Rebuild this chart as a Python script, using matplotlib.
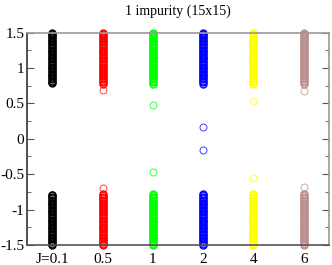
import matplotlib
matplotlib.use("Agg")
import matplotlib.pyplot as plt
from matplotlib.ticker import MultipleLocator

labels = ["J=0.1", "0.5", "1", "2", "4", "6"]
colors = ["black", "red", "#00ff00", "blue", "yellow", "#bc8f8f"]

upper_band = [
    [0.79, 0.80, 0.82, 0.84, 0.86, 0.88, 0.90, 0.92, 0.94, 0.96, 0.98, 1.00, 1.02, 1.04, 1.06, 1.08, 1.10, 1.12, 1.14, 1.16, 1.18, 1.20, 1.22, 1.24, 1.26, 1.28, 1.30, 1.32, 1.34, 1.36, 1.38, 1.40, 1.42, 1.44, 1.46, 1.48, 1.50],
    [0.78, 0.80, 0.82, 0.84, 0.86, 0.88, 0.90, 0.92, 0.94, 0.96, 0.98, 1.00, 1.02, 1.04, 1.06, 1.08, 1.10, 1.12, 1.14, 1.16, 1.18, 1.20, 1.22, 1.24, 1.26, 1.28, 1.30, 1.32, 1.34, 1.36, 1.38, 1.40, 1.42, 1.44, 1.46, 1.48, 1.50],
    [0.78, 0.80, 0.82, 0.84, 0.86, 0.88, 0.90, 0.92, 0.94, 0.96, 0.98, 1.00, 1.02, 1.04, 1.06, 1.08, 1.10, 1.12, 1.14, 1.16, 1.18, 1.20, 1.22, 1.24, 1.26, 1.28, 1.30, 1.32, 1.34, 1.36, 1.38, 1.40, 1.42, 1.44, 1.46, 1.48, 1.50],
    [0.78, 0.80, 0.82, 0.84, 0.86, 0.88, 0.90, 0.92, 0.94, 0.96, 0.98, 1.00, 1.02, 1.04, 1.06, 1.08, 1.10, 1.12, 1.14, 1.16, 1.18, 1.20, 1.22, 1.24, 1.26, 1.28, 1.30, 1.32, 1.34, 1.36, 1.38, 1.40, 1.42, 1.44, 1.46, 1.48, 1.50],
    [0.78, 0.80, 0.82, 0.84, 0.86, 0.88, 0.90, 0.92, 0.94, 0.96, 0.98, 1.00, 1.02, 1.04, 1.06, 1.08, 1.10, 1.12, 1.14, 1.16, 1.18, 1.20, 1.22, 1.24, 1.26, 1.28, 1.30, 1.32, 1.34, 1.36, 1.38, 1.40, 1.42, 1.44, 1.46, 1.48, 1.50],
    [0.78, 0.80, 0.82, 0.84, 0.86, 0.88, 0.90, 0.92, 0.94, 0.96, 0.98, 1.00, 1.02, 1.04, 1.06, 1.08, 1.10, 1.12, 1.14, 1.16, 1.18, 1.20, 1.22, 1.24, 1.26, 1.28, 1.30, 1.32, 1.34, 1.36, 1.38, 1.40, 1.42, 1.44, 1.46, 1.48, 1.50],
]
lower_band = [
    [-0.79, -0.80, -0.82, -0.84, -0.86, -0.88, -0.90, -0.92, -0.94, -0.96, -0.98, -1.00, -1.02, -1.04, -1.06, -1.08, -1.10, -1.12, -1.14, -1.16, -1.18, -1.20, -1.22, -1.24, -1.26, -1.28, -1.30, -1.32, -1.34, -1.36, -1.38, -1.40, -1.42, -1.44, -1.46, -1.48, -1.50],
    [-0.78, -0.80, -0.82, -0.84, -0.86, -0.88, -0.90, -0.92, -0.94, -0.96, -0.98, -1.00, -1.02, -1.04, -1.06, -1.08, -1.10, -1.12, -1.14, -1.16, -1.18, -1.20, -1.22, -1.24, -1.26, -1.28, -1.30, -1.32, -1.34, -1.36, -1.38, -1.40, -1.42, -1.44, -1.46, -1.48, -1.50],
    [-0.78, -0.80, -0.82, -0.84, -0.86, -0.88, -0.90, -0.92, -0.94, -0.96, -0.98, -1.00, -1.02, -1.04, -1.06, -1.08, -1.10, -1.12, -1.14, -1.16, -1.18, -1.20, -1.22, -1.24, -1.26, -1.28, -1.30, -1.32, -1.34, -1.36, -1.38, -1.40, -1.42, -1.44, -1.46, -1.48, -1.50],
    [-0.78, -0.80, -0.82, -0.84, -0.86, -0.88, -0.90, -0.92, -0.94, -0.96, -0.98, -1.00, -1.02, -1.04, -1.06, -1.08, -1.10, -1.12, -1.14, -1.16, -1.18, -1.20, -1.22, -1.24, -1.26, -1.28, -1.30, -1.32, -1.34, -1.36, -1.38, -1.40, -1.42, -1.44, -1.46, -1.48, -1.50],
    [-0.78, -0.80, -0.82, -0.84, -0.86, -0.88, -0.90, -0.92, -0.94, -0.96, -0.98, -1.00, -1.02, -1.04, -1.06, -1.08, -1.10, -1.12, -1.14, -1.16, -1.18, -1.20, -1.22, -1.24, -1.26, -1.28, -1.30, -1.32, -1.34, -1.36, -1.38, -1.40, -1.42, -1.44, -1.46, -1.48, -1.50],
    [-0.78, -0.80, -0.82, -0.84, -0.86, -0.88, -0.90, -0.92, -0.94, -0.96, -0.98, -1.00, -1.02, -1.04, -1.06, -1.08, -1.10, -1.12, -1.14, -1.16, -1.18, -1.20, -1.22, -1.24, -1.26, -1.28, -1.30, -1.32, -1.34, -1.36, -1.38, -1.40, -1.42, -1.44, -1.46, -1.48, -1.50],
]
outliers = [
    [],
    [0.69, -0.69],
    [0.47, -0.47],
    [0.16, -0.16],
    [0.54, -0.55],
    [0.68, -0.68],
]

plt.rcParams['font.family'] = ['Liberation Serif']
fig = plt.figure(figsize=(3.32, 2.65), dpi=100)
ax = fig.add_axes([27/332, 1-245/265, 302/332, 212.5/265])

for i, c in enumerate(colors):
    x = i + 1
    band = upper_band[i] + lower_band[i]
    ax.plot([x]*len(band), band, linestyle='none', marker='o', markersize=5.0,
            markerfacecolor='none', markeredgecolor=c, markeredgewidth=1.0,
            clip_on=False)
    ax.plot([x]*len(outliers[i]), outliers[i], linestyle='none', marker='o',
            markersize=5.0, markerfacecolor='none', markeredgecolor=c,
            markeredgewidth=0.7, alpha=0.75, clip_on=False)

ax.set_xlim(0.5, 6.5)
ax.set_ylim(-1.5, 1.5)
ax.set_xticks(range(1, 7))
ax.set_xticklabels(labels)
ax.set_yticks([-1.5, -1, -0.5, 0, 0.5, 1, 1.5])
ax.set_yticklabels(["-1.5", "-1", "-0.5", "0", "0.5", "1", "1.5"])
ax.yaxis.set_minor_locator(MultipleLocator(0.25))
ax.tick_params(axis='x', length=0, labelsize=11, pad=6)
ax.tick_params(axis='y', which='both', direction='in', left=True, right=True,
               labelsize=11, pad=2, color='#555555')
ax.tick_params(axis='y', which='major', length=5)
ax.tick_params(axis='y', which='minor', length=3)
ax.spines['left'].set_color('#333333')
ax.spines['bottom'].set_color('#555555')
ax.spines['top'].set_color('#999999')
ax.spines['right'].set_color('#999999')
for s in ax.spines.values():
    s.set_linewidth(1.2)
ax.set_title("1 impurity (15x15)", fontsize=10, pad=13)

fig.savefig("out.png", dpi=100)
